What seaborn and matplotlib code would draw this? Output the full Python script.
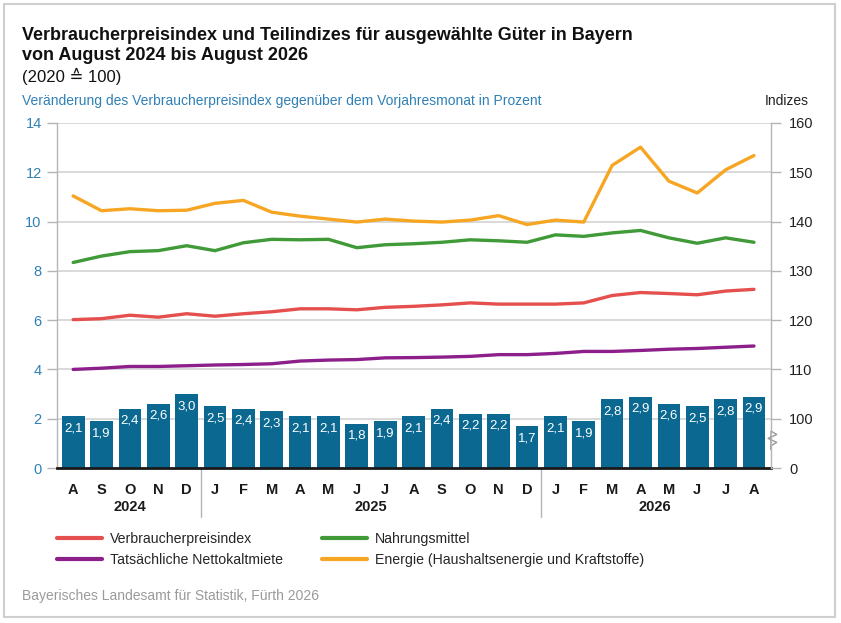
import matplotlib
matplotlib.use("Agg")
import numpy as np
import pandas as pd
import seaborn as sns
import matplotlib.pyplot as plt
import matplotlib.transforms as mtransforms
from matplotlib.lines import Line2D
from matplotlib.patches import Rectangle

# Monate August 2024 bis August 2026
monate = ['A', 'S', 'O', 'N', 'D',
          'J', 'F', 'M', 'A', 'M', 'J', 'J', 'A', 'S', 'O', 'N', 'D',
          'J', 'F', 'M', 'A', 'M', 'J', 'J', 'A']
jahre = ['2024', '2025', '2026']
jahr_mitte = [2.0, 10.5, 20.5]
jahr_grenzen = [4.5, 16.5]

# Veränderung gegenüber Vorjahresmonat in Prozent (linke Achse)
veraenderung = [2.1, 1.9, 2.4, 2.6, 3.0, 2.5, 2.4, 2.3, 2.1, 2.1, 1.8, 1.9, 2.1,
                2.4, 2.2, 2.2, 1.7, 2.1, 1.9, 2.8, 2.9, 2.6, 2.5, 2.8, 2.9]

# Indizes 2020 = 100 (rechte Achse)
vpi = [120.1, 120.3, 121.0, 120.6, 121.3, 120.8, 121.3, 121.7, 122.3, 122.3, 122.1, 122.6, 122.8,
       123.1, 123.5, 123.25, 123.25, 123.25, 123.5, 125.0, 125.6, 125.4, 125.15, 125.9, 126.25]
nahrung = [131.7, 133.0, 133.9, 134.1, 135.1, 134.1, 135.7, 136.4, 136.3, 136.4, 134.7, 135.3, 135.5,
           135.8, 136.3, 136.1, 135.8, 137.3, 137.0, 137.7, 138.2, 136.7, 135.6, 136.7, 135.8]
miete = [110.0, 110.25, 110.6, 110.6, 110.75, 110.9, 111.0, 111.15, 111.7, 111.9, 112.0, 112.35, 112.4,
         112.5, 112.65, 113.0, 113.0, 113.25, 113.65, 113.65, 113.85, 114.1, 114.25, 114.5, 114.75]
energie = [145.2, 142.2, 142.6, 142.2, 142.3, 143.7, 144.3, 141.9, 141.1, 140.5, 139.9, 140.5, 140.1,
           139.9, 140.3, 141.2, 139.4, 140.3, 139.9, 151.4, 155.1, 148.2, 145.8, 150.5, 153.4]

BAR = '#0b6891'
BLUE = '#2f80b5'
GRID = '#d3d3d3'
AXGRAY = '#b5b5b5'
FARBEN = {
    'Verbraucherpreisindex': '#e5504f',
    'Nahrungsmittel': '#3f9a37',
    'Tatsächliche Nettokaltmiete': '#8c1f8a',
    'Energie (Haushaltsenergie und Kraftstoffe)': '#f6a623',
}

df = pd.DataFrame({
    'pos': np.arange(len(monate)),
    'monat': monate,
    'rate': veraenderung,
    'Verbraucherpreisindex': vpi,
    'Nahrungsmittel': nahrung,
    'Tatsächliche Nettokaltmiete': miete,
    'Energie (Haushaltsenergie und Kraftstoffe)': energie,
})

sns.set_theme(style='white')
plt.rcParams['font.family'] = ['Liberation Sans', 'DejaVu Sans']

W, H = 841, 623
fig = plt.figure(figsize=(W / 100, H / 100), dpi=100)
ax = fig.add_axes([57 / W, 1 - 468 / H, (771 - 57) / W, (468 - 123) / H])

# Balken: Veränderungsraten
sns.barplot(data=df, x='pos', y='rate', color=BAR, saturation=1, width=0.8,
            errorbar=None, ax=ax, zorder=2, linewidth=0)
ax.bar_label(ax.containers[0],
             labels=[f"{v:.1f}".replace('.', ',') for v in veraenderung],
             padding=-13, color='white', fontsize=9.5)

ax.set_xlim(-0.57, 24.6)
ax.set_ylim(0, 14)
ax.set_yticks(range(0, 15, 2))
ax.set_axisbelow(True)
ax.grid(axis='y', color=GRID, lw=1.2)
ax.grid(axis='x', visible=False)
ax.set_xticks(range(len(monate)))
ax.set_xticklabels(monate, fontweight='bold', fontsize=10.5, color='#1a1a1a')
ax.tick_params(axis='x', length=0, pad=11, bottom=False)
ax.tick_params(axis='y', left=True, length=7, width=1, color=AXGRAY,
               labelcolor=BLUE, labelsize=10.5, pad=4)
ax.set_xlabel('')
ax.set_ylabel('')
for s in ['top', 'right']:
    ax.spines[s].set_visible(False)
ax.spines['left'].set_color(AXGRAY)
ax.spines['left'].set_linewidth(1)
ax.spines['bottom'].set_color('#1a1a1a')
ax.spines['bottom'].set_linewidth(2)
ax.spines['bottom'].set_zorder(5)

# Jahresbeschriftung und Trennlinien
trans = mtransforms.blended_transform_factory(ax.transData, ax.transAxes)
for x, j in zip(jahr_mitte, jahre):
    ax.text(x, -0.113, j, transform=trans, ha='center', va='center',
            fontweight='bold', fontsize=10.5, color='#1a1a1a')
for x in jahr_grenzen:
    ax.axvline(x, ymin=-0.143, ymax=0, color=AXGRAY, lw=1, clip_on=False)


# Rechte Achse mit Bruch zwischen 0 und 100
def fwd(v):
    v = np.asarray(v, dtype=float)
    return np.where(v < 100, v / 50, 2 + (v - 100) / 5)


def inv(u):
    u = np.asarray(u, dtype=float)
    return np.where(u < 2, u * 50, 100 + (u - 2) * 5)


ax2 = ax.twinx()
ax2.set_yscale('function', functions=(fwd, inv))
for name, col in FARBEN.items():
    sns.lineplot(data=df, x='pos', y=name, color=col, lw=2.4, ax=ax2)
ax2.set_ylim(0, 160)
ax2.set_yticks([0, 100, 110, 120, 130, 140, 150, 160])
ax2.set_yticklabels(['0', '100', '110', '120', '130', '140', '150', '160'])
ax2.yaxis.set_minor_locator(matplotlib.ticker.NullLocator())
ax2.tick_params(axis='y', right=True, length=7, width=1, color=AXGRAY,
                labelcolor='#222222', labelsize=10.5, pad=6)
ax2.set_ylabel('')
ax2.set_xlabel('')
for s in ['top', 'left', 'bottom']:
    ax2.spines[s].set_visible(False)
ax2.spines['right'].set_color(AXGRAY)
ax2.spines['right'].set_linewidth(1)
ax.set_xlim(-0.57, 24.6)

# Achsenbruch-Symbol
ytr = ax.get_yaxis_transform()
ax.plot([1, 1], [0.85, 1.5], transform=ytr, color='white', lw=3, clip_on=False, zorder=6)
ax.plot([1, 1, 1.008, 0.996, 1.008, 1, 1], [0.75, 1.5, 1.36, 1.2, 1.04, 0.9, 0.75],
        transform=ytr, color='#9a9a9a', lw=1, clip_on=False, zorder=7)

# Texte
fig.text(22 / W, 1 - 35 / H, 'Verbraucherpreisindex und Teilindizes für ausgewählte Güter in Bayern',
         fontsize=13, fontweight='bold', va='center', color='#111111')
fig.text(22 / W, 1 - 56 / H, 'von August 2024 bis August 2026',
         fontsize=13, fontweight='bold', va='center', color='#111111')
fig.text(22 / W, 1 - 76 / H, '(2020 ≙ 100)', fontsize=12, va='center', color='#111111',
         family=['Liberation Sans', 'DejaVu Sans'])
fig.text(22 / W, 1 - 101 / H,
         'Veränderung des Verbraucherpreisindex gegenüber dem Vorjahresmonat in Prozent',
         fontsize=10, va='center', color=BLUE)
fig.text(809 / W, 1 - 101 / H, 'Indizes', fontsize=10, va='center', ha='right', color='#222222')
fig.text(22 / W, 1 - 596 / H, 'Bayerisches Landesamt für Statistik, Fürth 2026',
         fontsize=10, va='center', color='#9a9a9a')

# Legende in zwei Spalten
namen = list(FARBEN.keys())
for x0, gruppe in [(57, [namen[0], namen[2]]), (322, [namen[1], namen[3]])]:
    handles = [Line2D([0], [0], color=FARBEN[n], lw=3) for n in gruppe]
    fig.legend(handles, gruppe, loc='upper left', bbox_to_anchor=(x0 / W, 1 - 532 / H),
               frameon=False, fontsize=10.2, handlelength=3.2, handletextpad=0.55,
               labelspacing=0.5, borderpad=0, borderaxespad=0)

# Rahmen
fig.patches.append(Rectangle((4 / W, 1 - 617 / H), 831 / W, 613 / H, transform=fig.transFigure,
                             fill=False, edgecolor='#cfcfcf', lw=1.5))

fig.savefig('out.png', dpi=100)
